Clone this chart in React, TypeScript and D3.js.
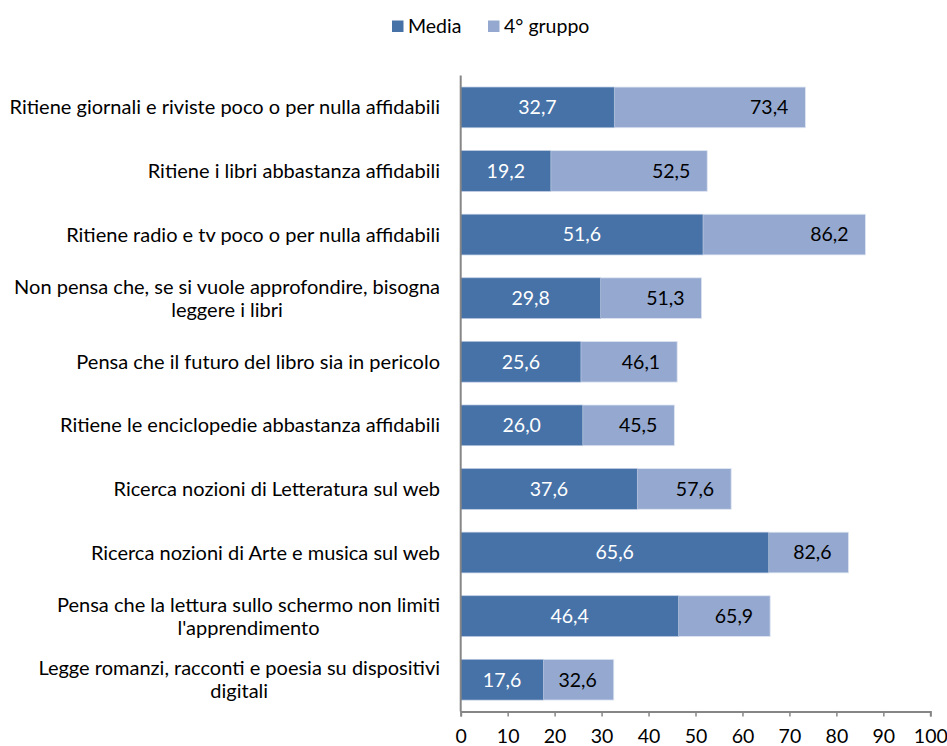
import React, { useEffect, useRef } from "react";
import * as d3 from "d3";

const categories: string[] = [
  "Ritiene giornali e riviste poco o per nulla affidabili",
  "Ritiene i libri abbastanza affidabili",
  "Ritiene radio e tv poco o per nulla affidabili",
  "Non pensa che, se si vuole approfondire, bisogna\nleggere i libri",
  "Pensa che il futuro del libro sia in pericolo",
  "Ritiene le enciclopedie abbastanza affidabili",
  "Ricerca nozioni di Letteratura sul web",
  "Ricerca nozioni di Arte e musica sul web",
  "Pensa che la lettura sullo schermo non limiti\nl'apprendimento",
  "Legge romanzi, racconti e poesia su dispositivi\ndigitali",
];

const mediaValues: number[] = [32.7, 19.2, 51.6, 29.8, 25.6, 26.0, 37.6, 65.6, 46.4, 17.6];
const gruppoValues: number[] = [73.4, 52.5, 86.2, 51.3, 46.1, 45.5, 57.6, 82.6, 65.9, 32.6];
const seriesNames: string[] = ["Media", "4° gruppo"];
const xTicks: number[] = [0, 10, 20, 30, 40, 50, 60, 70, 80, 90, 100];

const DARK = "#4672A8";
const LIGHT = "#95A9D0";
const FONT = "Lato, 'Open Sans', sans-serif";
const FS = 19.5;
const FS_CAT = 20;
const fmt = (v: number) => v.toFixed(1).replace(".", ",");

export default function App() {
  const ref = useRef<SVGSVGElement>(null);

  useEffect(() => {
    const svg = d3.select(ref.current);
    svg.selectAll("*").remove();

    const axisY = 711.5;
    const x = d3.scaleLinear().domain([0, 100]).range([460.7, 930.3]);
    const y = d3
      .scaleBand<number>()
      .domain(d3.range(categories.length))
      .range([75.6, axisY])
      .paddingInner(0.36)
      .paddingOuter(0.18);

    const g = svg.append("g").attr("font-family", FONT);

    g.selectAll("rect.g4")
      .data(gruppoValues)
      .join("rect")
      .attr("class", "g4")
      .attr("x", x(0))
      .attr("y", (_, i) => y(i)!)
      .attr("width", (d) => x(d) - x(0))
      .attr("height", y.bandwidth())
      .attr("fill", LIGHT)
      .attr("stroke", "#dfe6f2")
      .attr("stroke-width", 0.8);

    g.selectAll("rect.media")
      .data(mediaValues)
      .join("rect")
      .attr("class", "media")
      .attr("x", x(0))
      .attr("y", (_, i) => y(i)!)
      .attr("width", (d) => x(d) - x(0))
      .attr("height", y.bandwidth())
      .attr("fill", DARK)
      .attr("stroke", "#c8d3e6")
      .attr("stroke-width", 0.6);

    g.selectAll("text.ml")
      .data(mediaValues)
      .join("text")
      .attr("class", "ml")
      .attr("x", (d) => (x(0) + x(d)) / 2)
      .attr("y", (_, i) => y(i)! + y.bandwidth() / 2)
      .attr("dy", "0.35em")
      .attr("text-anchor", "middle")
      .attr("fill", "#ffffff")
      .attr("font-size", FS)
      .text((d) => fmt(d));

    g.selectAll("text.gl")
      .data(gruppoValues)
      .join("text")
      .attr("class", "gl")
      .attr("x", (d) => x(d) - 17)
      .attr("y", (_, i) => y(i)! + y.bandwidth() / 2)
      .attr("dy", "0.35em")
      .attr("text-anchor", "end")
      .attr("fill", "#000000")
      .attr("font-size", FS)
      .text((d) => fmt(d));

    g.append("line")
      .attr("x1", x(0))
      .attr("x2", x(0))
      .attr("y1", 75.6)
      .attr("y2", axisY)
      .attr("stroke", "#868686")
      .attr("stroke-width", 2);

    const xAxis = d3
      .axisBottom(x)
      .tickValues(xTicks)
      .tickSize(5)
      .tickPadding(13)
      .tickFormat((d) => String(d));
    const ax = g.append("g").attr("transform", `translate(0,${axisY})`).call(xAxis);
    ax.select(".domain").attr("stroke", "#868686").attr("stroke-width", 2);
    ax.selectAll(".tick line").attr("stroke", "#868686").attr("stroke-width", 1.5);
    ax.selectAll(".tick text")
      .attr("font-size", FS)
      .attr("font-family", FONT)
      .attr("fill", "#000");

    categories.forEach((cat, i) => {
      const lines = cat.split("\n");
      const cy = y(i)! + y.bandwidth() / 2;
      const lh = 23;
      const texts = lines.map((ln, j) =>
        g
          .append("text")
          .attr("font-size", FS_CAT)
          .attr("fill", "#000")
          .attr("y", cy + (j - (lines.length - 1) / 2) * lh)
          .attr("dy", "0.35em")
          .text(ln)
      );
      const widths = texts.map((t) => (t.node() as SVGTextElement).getComputedTextLength());
      const maxW = Math.max(...widths);
      const right = 440;
      texts.forEach((t) => {
        t.attr("text-anchor", "middle").attr("x", right - maxW / 2);
      });
    });

    const legendItems = [
      { name: seriesNames[0], color: DARK, x: 392 },
      { name: seriesNames[1], color: LIGHT, x: 488 },
    ];
    legendItems.forEach((it) => {
      g.append("rect")
        .attr("x", it.x)
        .attr("y", 20.5)
        .attr("width", 11.5)
        .attr("height", 11.5)
        .attr("fill", it.color);
      g.append("text")
        .attr("x", it.x + 16)
        .attr("y", 26.5)
        .attr("dy", "0.35em")
        .attr("font-size", FS)
        .attr("fill", "#000")
        .text(it.name);
    });
  }, []);

  return (
    <svg
      ref={ref}
      width={947}
      height={746}
      style={{ position: "absolute", left: 0, top: 0, background: "#fff" }}
    />
  );
}
